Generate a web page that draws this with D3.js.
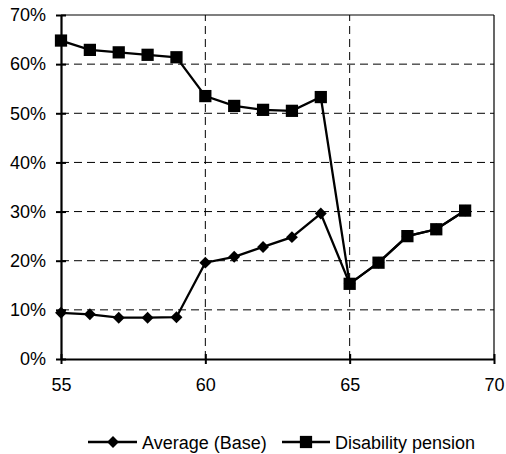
<!DOCTYPE html>
<html><head><meta charset="utf-8">
<script src="https://cdn.jsdelivr.net/npm/d3@7"></script>
<style>body{margin:0;background:#fff}svg{display:block}text{font-family:"Liberation Sans",Arial,sans-serif;fill:#000}</style>
</head><body><svg id="c" width="506" height="454"></svg>
<script>
const ages = [55,56,57,58,59,60,61,62,63,64,65,66,67,68,69];
const averageBase = [9.4,9.1,8.4,8.4,8.5,19.6,20.8,22.8,24.8,29.6,15.3,19.6,25.0,26.4,30.2];
const disability = [64.8,62.9,62.4,61.9,61.4,53.5,51.5,50.7,50.5,53.3,15.3,19.6,25.0,26.4,30.2];
const xTicks = [55,60,65,70];
const yTicks = [0,10,20,30,40,50,60,70];
const seriesNames = ["Average (Base)","Disability pension"];

const svg = d3.select("#c");
const x = d3.scaleLinear().domain([55,70]).range([61,494]);
const y = d3.scaleLinear().domain([0,70]).range([359,15]);
const g = svg.append("g");

// gridlines
g.selectAll(".hg").data(yTicks.filter(t=>t>0&&t<70)).enter().append("line")
 .attr("x1",x(55)).attr("x2",x(70)).attr("y1",d=>y(d)).attr("y2",d=>y(d))
 .attr("stroke","#000").attr("stroke-width",1).attr("stroke-dasharray","8,5");
g.selectAll(".vg").data(xTicks.filter(t=>t>55&&t<70)).enter().append("line")
 .attr("y1",y(0)).attr("y2",y(70)).attr("x1",d=>x(d)).attr("x2",d=>x(d))
 .attr("stroke","#000").attr("stroke-width",1).attr("stroke-dasharray","8,5");
// top/right border
g.append("line").attr("x1",x(55)).attr("x2",x(70)).attr("y1",y(70)).attr("y2",y(70)).attr("stroke","#000").attr("stroke-width",1.2);
g.append("line").attr("x1",x(70)).attr("x2",x(70)).attr("y1",y(0)).attr("y2",y(70)).attr("stroke","#000").attr("stroke-width",1.2);

// axes
const yAxis = d3.axisLeft(y).tickValues(yTicks).tickFormat(d=>d+"%").tickSizeInner(5).tickSizeOuter(0).tickPadding(10);
const ya = svg.append("g").attr("transform",`translate(${x(55)},0)`).call(yAxis);
ya.select(".domain").attr("stroke","#000").attr("stroke-width",2.2);
ya.selectAll(".tick line").attr("x2",5).attr("x1",-5).attr("stroke","#000").attr("stroke-width",2);
ya.selectAll("text").attr("font-size",18).attr("font-family","Liberation Sans, Arial, sans-serif").attr("fill","#000").attr("x",-15);

const xAxis = d3.axisBottom(x).tickValues(xTicks).tickFormat(d3.format("d")).tickSizeInner(5).tickSizeOuter(0).tickPadding(14);
const xa = svg.append("g").attr("transform",`translate(0,${y(0)})`).call(xAxis);
xa.select(".domain").attr("stroke","#000").attr("stroke-width",2.2);
xa.selectAll(".tick line").attr("y1",-5).attr("y2",5).attr("stroke","#000").attr("stroke-width",2);
xa.selectAll("text").attr("font-size",18).attr("font-family","Liberation Sans, Arial, sans-serif").attr("fill","#000").attr("y",19);

// lines
const line = d3.line().x((d,i)=>x(ages[i])).y(d=>y(d));
svg.append("path").datum(averageBase).attr("d",line).attr("fill","none").attr("stroke","#000").attr("stroke-width",2.3);
svg.append("path").datum(disability).attr("d",line).attr("fill","none").attr("stroke","#000").attr("stroke-width",2.3);

const diamond = d3.symbol().type(d3.symbolDiamond2).size(90);
const square = d3.symbol().type(d3.symbolSquare).size(150);
svg.selectAll(".dm").data(averageBase).enter().append("path")
 .attr("d",diamond).attr("transform",(d,i)=>`translate(${x(ages[i])},${y(d)})`).attr("fill","#000");
svg.selectAll(".sq").data(disability).enter().append("path")
 .attr("d",square).attr("transform",(d,i)=>`translate(${x(ages[i])},${y(d)})`).attr("fill","#000");

// legend
const ly = 442;
const lg = svg.append("g");
lg.append("line").attr("x1",88).attr("x2",137).attr("y1",ly).attr("y2",ly).attr("stroke","#000").attr("stroke-width",2.3);
lg.append("path").attr("d",diamond).attr("transform",`translate(113,${ly})`).attr("fill","#000");
lg.append("text").attr("x",142).attr("y",ly+6.5).attr("font-size",18).text(seriesNames[0]);
lg.append("line").attr("x1",282).attr("x2",330).attr("y1",ly).attr("y2",ly).attr("stroke","#000").attr("stroke-width",2.3);
lg.append("path").attr("d",square).attr("transform",`translate(306,${ly})`).attr("fill","#000");
lg.append("text").attr("x",335).attr("y",ly+6.5).attr("font-size",18).text(seriesNames[1]);
</script></body></html>
